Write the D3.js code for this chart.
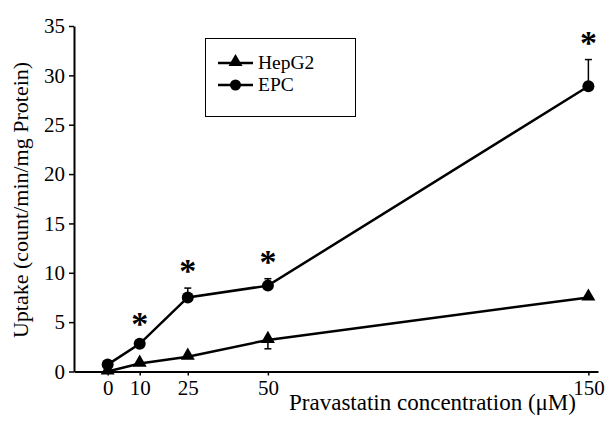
<!DOCTYPE html>
<html>
<head>
<meta charset="utf-8">
<script src="https://cdn.jsdelivr.net/npm/d3@7"></script>
<style>
  html, body { margin: 0; padding: 0; background: #fff; }
  svg { display: block; }
  text { font-family: "Liberation Serif", "Times New Roman", serif; fill: #000; }
</style>
</head>
<body>
<svg id="chart" width="607" height="423"></svg>
<script>
// ---- data ----
const concentrations = [0, 10, 25, 50, 150];
const hepg2Values = [0.0, 0.8, 1.5, 3.2, 7.5];
const hepg2Errors = [0, 0, 0, 0.9, 0];
const epcValues = [0.7, 2.8, 7.5, 8.7, 28.9];
const epcErrors = [0, 0.3, 0.95, 0.7, 2.7];
const epcSignificant = [false, true, true, true, true];
const xTickValues = [0, 10, 25, 50, 150];
const yTickValues = [0, 5, 10, 15, 20, 25, 30, 35];
const seriesNames = ["HepG2", "EPC"];
const xLabel = "Pravastatin concentration (\u03BCM)";
const yLabel = "Uptake (count/min/mg Protein)";

// ---- layout ----
const svg = d3.select("#chart");
const x = d3.scaleLinear().domain([-10.5, 153]).range([74, 598]);
const y = d3.scaleLinear().domain([0, 35]).range([371.5, 26]);

const fontSize = 21;

// y axis
const yAxis = svg.append("g").attr("transform", `translate(${x.range()[0]},0)`)
  .call(d3.axisLeft(y).tickValues(yTickValues).tickSize(5).tickPadding(4).tickSizeOuter(0));
yAxis.select(".domain").attr("stroke-width", 2);
yAxis.selectAll(".tick line").attr("stroke-width", 1.5);
yAxis.selectAll("text").attr("font-size", fontSize).attr("font-family", "Liberation Serif").attr("fill", "#000");

// x axis
const xAxis = svg.append("g").attr("transform", `translate(0,${y(0)})`)
  .call(d3.axisBottom(x).tickValues(xTickValues).tickSize(4).tickSizeOuter(0));
xAxis.select(".domain").attr("stroke-width", 2);
xAxis.selectAll(".tick line").attr("stroke-width", 1.5);
xAxis.selectAll("text").attr("font-size", fontSize).attr("font-family", "Liberation Serif")
  .attr("fill", "#000").attr("y", 23).attr("dy", 0);

// axis labels
svg.append("text").attr("x", 432.5).attr("y", 410).attr("text-anchor", "middle")
  .attr("font-size", 23).text(xLabel);
svg.append("text").attr("transform", "translate(28,200) rotate(-90)").attr("text-anchor", "middle")
  .attr("font-size", 22).text(yLabel);

// data
const hep = concentrations.map((c, i) => ({ c, v: hepg2Values[i], e: hepg2Errors[i] }));
const epc = concentrations.map((c, i) => ({ c, v: epcValues[i], e: epcErrors[i], s: epcSignificant[i] }));

const line = d3.line().x(d => x(d.c)).y(d => y(d.v));
const capW = 3.5;

// error bars
function errorBars(data, dir) {
  const g = svg.append("g").attr("stroke", "#000").attr("stroke-width", 1.5);
  data.filter(d => d.e > 0).forEach(d => {
    const end = d.v + dir * d.e;
    g.append("line").attr("x1", x(d.c)).attr("x2", x(d.c)).attr("y1", y(d.v)).attr("y2", y(end));
    g.append("line").attr("x1", x(d.c) - capW).attr("x2", x(d.c) + capW).attr("y1", y(end)).attr("y2", y(end));
  });
}
errorBars(epc, 1);
errorBars(hep, -1);

// lines
svg.append("path").datum(hep).attr("d", line).attr("fill", "none").attr("stroke", "#000").attr("stroke-width", 2.5);
svg.append("path").datum(epc).attr("d", line).attr("fill", "none").attr("stroke", "#000").attr("stroke-width", 2.5);

// markers
const tri = d3.symbol().type(d3.symbolTriangle).size(85);
svg.append("g").selectAll("path").data(hep).join("path")
  .attr("d", tri).attr("transform", d => `translate(${x(d.c)},${y(d.v) - 1})`).attr("fill", "#000");
svg.append("g").selectAll("circle").data(epc).join("circle")
  .attr("cx", d => x(d.c)).attr("cy", d => y(d.v)).attr("r", 6).attr("fill", "#000");

// significance stars
svg.append("g").selectAll("text").data(epc.filter(d => d.s)).join("text")
  .attr("x", d => x(d.c)).attr("y", d => y(d.v + d.e) - 6)
  .attr("text-anchor", "middle").attr("font-size", 34).attr("font-weight", "bold").text("*");

// legend
const lg = svg.append("g");
lg.append("rect").attr("x", 205.5).attr("y", 38.5).attr("width", 150).attr("height", 78)
  .attr("fill", "none").attr("stroke", "#000").attr("stroke-width", 1);
const legendRows = [63, 85];
seriesNames.forEach((name, i) => {
  const ly = legendRows[i];
  lg.append("line").attr("x1", 218).attr("x2", 253).attr("y1", ly).attr("y2", ly)
    .attr("stroke", "#000").attr("stroke-width", 2.5);
  if (i === 0) {
    lg.append("path").attr("d", tri).attr("transform", `translate(235.5,${ly - 1})`).attr("fill", "#000");
  } else {
    lg.append("circle").attr("cx", 235.5).attr("cy", ly).attr("r", 5.5).attr("fill", "#000");
  }
  lg.append("text").attr("x", 258).attr("y", ly + 6).attr("font-size", 19.5).text(name);
});
</script>
</body>
</html>
